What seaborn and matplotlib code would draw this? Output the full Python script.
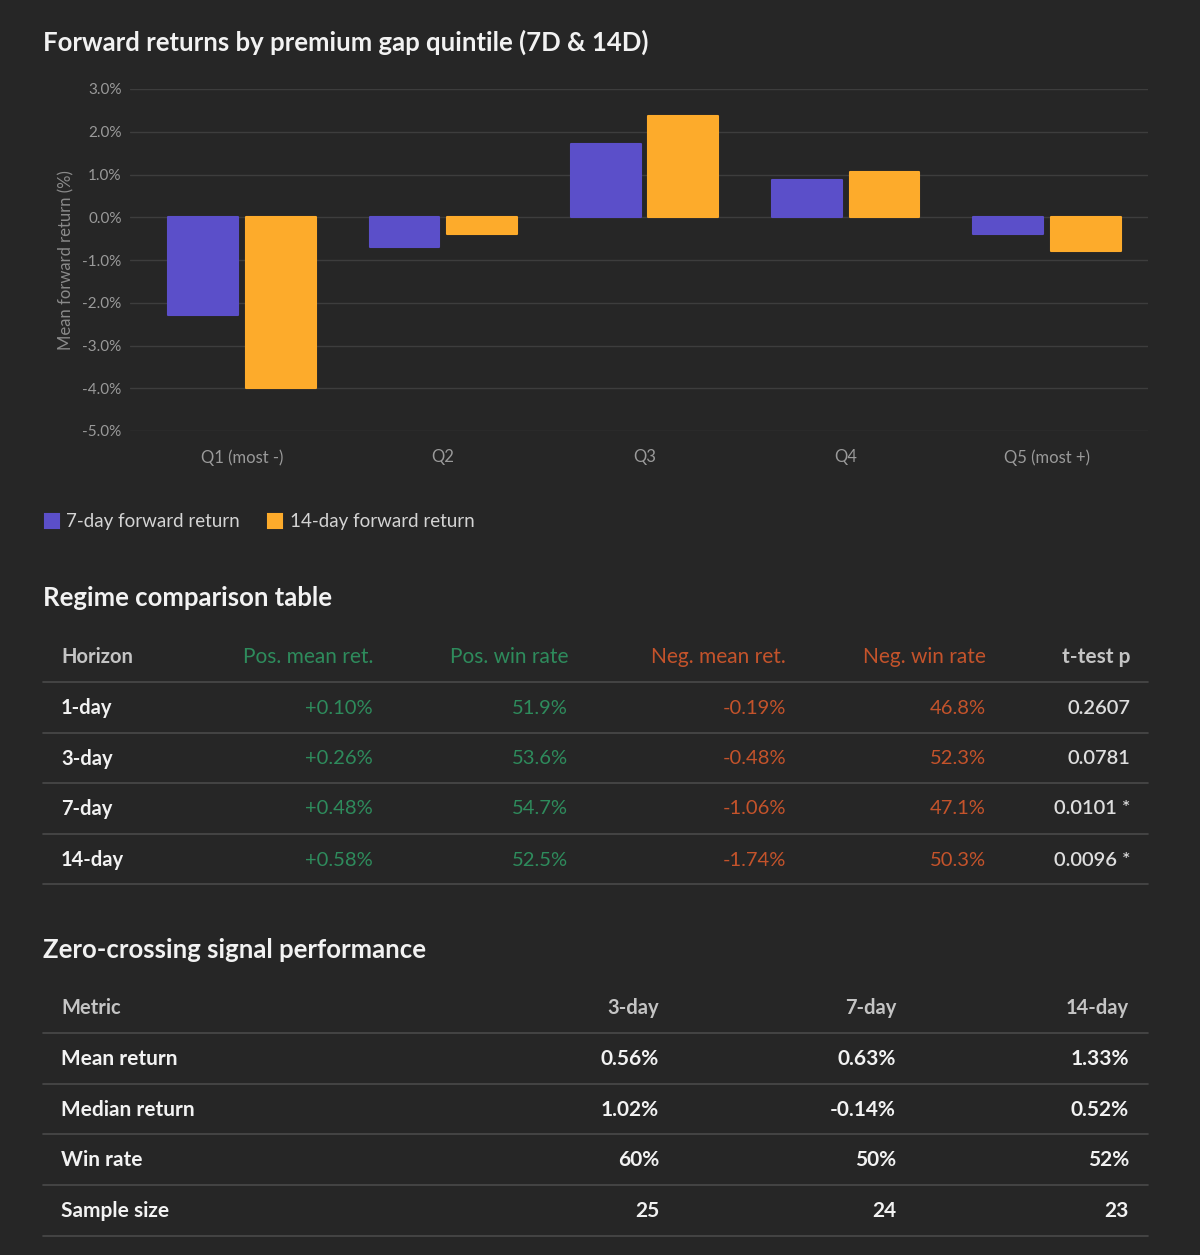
import matplotlib
matplotlib.use("Agg")
import matplotlib.pyplot as plt
import seaborn as sns
import pandas as pd
from matplotlib.ticker import FuncFormatter

# ---- data ----
quintiles = ["Q1 (most -)", "Q2", "Q3", "Q4", "Q5 (most +)"]
ret_7d = [-2.29, -0.70, 1.72, 0.87, -0.40]
ret_14d = [-4.00, -0.40, 2.36, 1.07, -0.79]
series_names = ["7-day forward return", "14-day forward return"]

horizons = ["1-day", "3-day", "7-day", "14-day"]
pos_mean = [0.10, 0.26, 0.48, 0.58]
pos_win = [51.9, 53.6, 54.7, 52.5]
neg_mean = [-0.19, -0.48, -1.06, -1.74]
neg_win = [46.8, 52.3, 47.1, 50.3]
ttest_p = [0.2607, 0.0781, 0.0101, 0.0096]

zc_horizons = ["3-day", "7-day", "14-day"]
zc_metrics = ["Mean return", "Median return", "Win rate", "Sample size"]
zc_mean = [0.56, 0.63, 1.33]
zc_median = [1.02, -0.14, 0.52]
zc_win = [60, 50, 52]
zc_n = [25, 24, 23]

# ---- style ----
BG = "#262626"
PURPLE = "#5b4fc9"
ORANGE = "#fdab2b"
GREEN = "#2e8b5c"
RED = "#c4532b"
GRID = "#3d3d3d"
LINE = "#4a4a4a"
HEAD = "#c4c4c4"
WHITE = "#f2f2f2"

sns.set_style("dark", {"axes.facecolor": BG, "figure.facecolor": BG})
plt.rcParams["font.family"] = ["Lato", "DejaVu Sans"]
plt.rcParams["axes.unicode_minus"] = False

W, H = 1200, 1255
fig = plt.figure(figsize=(W / 100, H / 100), dpi=100)
fig.patch.set_facecolor(BG)


def fx(x):
    return x / W


def fy(y):
    return 1 - y / H


def txt(x, y, s, **kw):
    kw.setdefault("va", "center")
    fig.text(fx(x), fy(y), s, **kw)


# ---- bar chart ----
df = pd.DataFrame({
    "Quintile": quintiles * 2,
    "Return": ret_7d + ret_14d,
    "Series": [series_names[0]] * len(quintiles) + [series_names[1]] * len(quintiles),
})

ax = fig.add_axes([fx(130), fy(431), 1018 / W, 342 / H])
sns.barplot(data=df, x="Quintile", y="Return", hue="Series",
            palette=[PURPLE, ORANGE], saturation=1, width=0.77, gap=0.1,
            ax=ax, zorder=3, legend=True)
for p in ax.patches:
    p.set_edgecolor(p.get_facecolor())
    p.set_linewidth(1.5)
    p.set_joinstyle("round")

ax.set_ylim(-5, 3)
ax.set_xlim(-0.556, 4.502)
ax.set_yticks(range(-5, 4))
ax.yaxis.set_major_formatter(FuncFormatter(lambda v, _: f"{v:.1f}%"))
ax.grid(axis="y", color=GRID, linewidth=1, zorder=0)
ax.grid(axis="x", visible=False)
for s in ax.spines.values():
    s.set_visible(False)
ax.tick_params(axis="both", length=0, colors="#9a9a9a", labelsize=11)
ax.tick_params(axis="x", pad=13, labelsize=12)
ax.tick_params(axis="y", pad=6)
ax.set_xlabel("")
ax.set_ylabel("Mean forward return (%)", color="#8a8a8a", fontsize=12, labelpad=6)

handles, labels = ax.get_legend_handles_labels()
ax.get_legend().remove()
fig.legend(handles, labels, loc="center left", bbox_to_anchor=(fx(28), fy(522)),
           ncol=2, frameon=False, fontsize=13.5, labelcolor="#d4d4d4",
           handlelength=0.75, handleheight=0.75, handletextpad=0.4,
           columnspacing=1.5)

txt(43, 42, "Forward returns by premium gap quintile (7D & 14D)",
    color=WHITE, fontsize=18.5, fontweight="bold")

# ---- regime comparison table ----
txt(43, 598, "Regime comparison table", color=WHITE, fontsize=18.5, fontweight="bold")

cols_x = [373, 568, 786, 986, 1130]
headers = ["Pos. mean ret.", "Pos. win rate", "Neg. mean ret.", "Neg. win rate", "t-test p"]
head_colors = [GREEN, GREEN, RED, RED, HEAD]
txt(61, 657, "Horizon", color=HEAD, fontsize=14.5, fontweight="bold")
for x, h, c in zip(cols_x, headers, head_colors):
    txt(x, 657, h, color=c, fontsize=15, ha="right",
        fontweight="bold" if c == HEAD else "normal")

for y in [682, 733, 783, 834, 884]:
    fig.add_artist(plt.Line2D([fx(43), fx(1148)], [fy(y), fy(y)], color=LINE, lw=1.2))

row_y = [708, 759, 809, 860]
for i, y in enumerate(row_y):
    txt(61, y, horizons[i], color=WHITE, fontsize=14.5, fontweight="bold")
    txt(cols_x[0], y, f"+{pos_mean[i]:.2f}%", color=GREEN, fontsize=14.5, ha="right")
    txt(cols_x[1], y, f"{pos_win[i]:.1f}%", color=GREEN, fontsize=14.5, ha="right")
    txt(cols_x[2], y, f"{neg_mean[i]:.2f}%", color=RED, fontsize=14.5, ha="right")
    txt(cols_x[3], y, f"{neg_win[i]:.1f}%", color=RED, fontsize=14.5, ha="right")
    star = " *" if ttest_p[i] < 0.05 else ""
    txt(cols_x[4], y, f"{ttest_p[i]:.4f}{star}", color="#dedede", fontsize=14.5, ha="right",
        fontweight="semibold")

# ---- zero-crossing table ----
txt(43, 950, "Zero-crossing signal performance", color=WHITE, fontsize=18.5, fontweight="bold")

zc_x = [659, 896, 1129]
txt(61, 1008, "Metric", color=HEAD, fontsize=14.5, fontweight="bold")
for x, h in zip(zc_x, zc_horizons):
    txt(x, 1008, h, color=HEAD, fontsize=14.5, ha="right", fontweight="bold")

for y in [1033, 1084, 1134, 1185, 1236]:
    fig.add_artist(plt.Line2D([fx(43), fx(1148)], [fy(y), fy(y)], color=LINE, lw=1.2))

zc_rows = [
    [f"{v:.2f}%" for v in zc_mean],
    [f"{v:.2f}%" for v in zc_median],
    [f"{v}%" for v in zc_win],
    [f"{v}" for v in zc_n],
]
zc_y = [1059, 1110, 1160, 1211]
for i, y in enumerate(zc_y):
    txt(61, y, zc_metrics[i], color=WHITE, fontsize=15, fontweight="bold")
    for x, s in zip(zc_x, zc_rows[i]):
        txt(x, y, s, color=WHITE, fontsize=15, ha="right", fontweight="bold")

fig.savefig("out.png", dpi=100, facecolor=BG)
